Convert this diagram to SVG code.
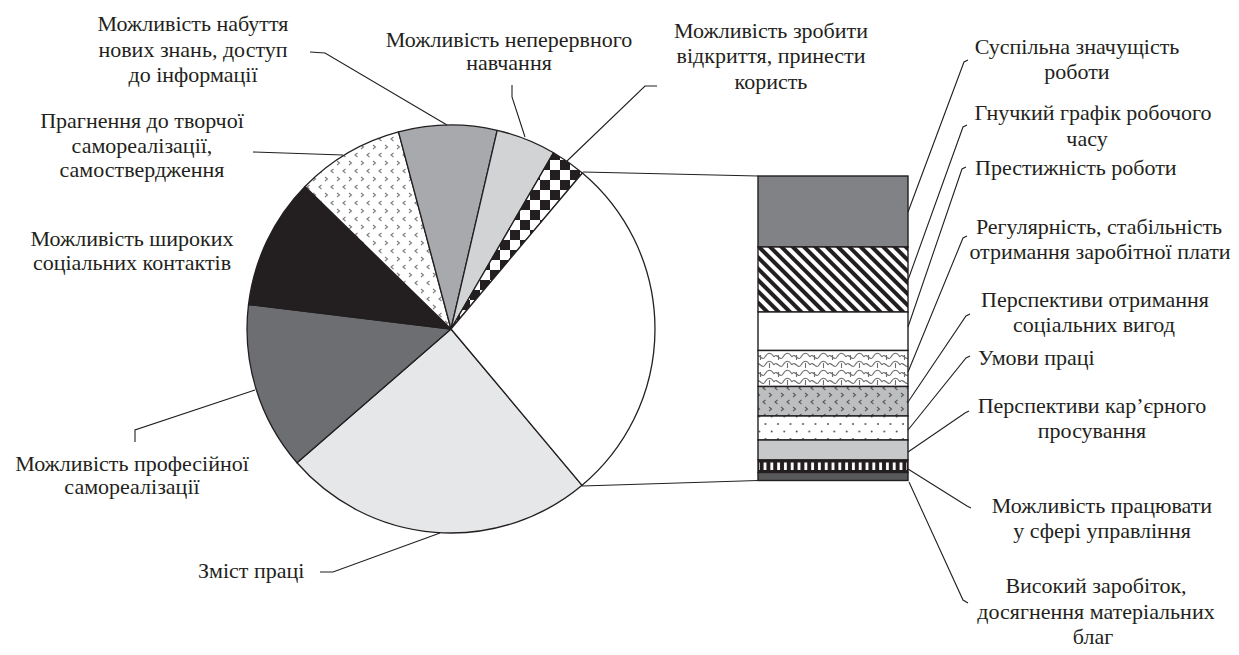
<svg xmlns="http://www.w3.org/2000/svg" width="1239" height="655" viewBox="0 0 1239 655">
<style>
text{font-family:"Liberation Serif","Times New Roman",serif;font-size:22px;fill:#231f20}
.m{text-anchor:middle}
.sl{stroke:#231f20;stroke-width:1.3;stroke-linejoin:round}
.seg{stroke:#231f20;stroke-width:1.4}
.ld{fill:none;stroke:#231f20;stroke-width:1.1}
</style>
<defs>
<pattern id="chev" width="12" height="16" patternUnits="userSpaceOnUse">
<rect width="12" height="16" fill="#fff"/>
<path d="M1,1 L3.5,3 L1,5 M9.5,9 L7,11 L9.5,13" fill="none" stroke="#7d7d7d" stroke-width="1.1"/>
</pattern>
<pattern id="chevg" width="12" height="14" patternUnits="userSpaceOnUse">
<rect width="12" height="14" fill="#bcbec0"/>
<path d="M1,1 L3.5,3 L1,5 M9.5,8 L7,10 L9.5,12" fill="none" stroke="#58595b" stroke-width="1.1"/>
</pattern>
<pattern id="check" width="20" height="20" patternUnits="userSpaceOnUse">
<rect width="20" height="20" fill="#fff"/>
<rect width="10" height="10" fill="#231f20"/>
<rect x="10" y="10" width="10" height="10" fill="#231f20"/>
</pattern>
<pattern id="hatch" width="8" height="8" patternUnits="userSpaceOnUse" patternTransform="rotate(-45)">
<rect width="8" height="8" fill="#fff"/>
<rect width="4" height="8" fill="#231f20"/>
</pattern>
<pattern id="wave" width="18" height="17" patternUnits="userSpaceOnUse" y="352">
<rect width="18" height="17" fill="#fff"/>
<path d="M0,5 C3,0 6,10 9,5 S15,0 18,5 M0,13 C3,8 6,18 9,13 S15,8 18,13 M4.5,3 L4.5,8 M13.5,11 L13.5,16" fill="none" stroke="#6d6e71" stroke-width="1.1"/>
</pattern>
<pattern id="dots" width="12.5" height="15" patternUnits="userSpaceOnUse">
<rect width="12.5" height="15" fill="#fff"/>
<circle cx="3" cy="4" r="0.9" fill="#414042"/>
<circle cx="9.25" cy="11.5" r="0.9" fill="#414042"/>
</pattern>
<pattern id="vbar" width="6.8" height="20" patternUnits="userSpaceOnUse">
<rect x="2" width="2.8" height="20" fill="#fff"/>
</pattern>
</defs>

<g id="pie">
<path id="s-zmist" class="sl" fill="#e6e7e8" d="M451,329 L297,462.8 A204,204 0 0 0 582.1,485.3 Z"/>
<path id="s-prof" class="sl" fill="#6d6e71" d="M451,329 L248.5,304.5 A204,204 0 0 0 297,462.8 Z"/>
<path id="s-kont" class="sl" fill="#231f20" d="M451,329 L305,186.5 A204,204 0 0 0 248.5,304.5 Z"/>
<path id="s-tvor" class="sl" fill="url(#chev)" d="M451,329 L398.5,131.9 A204,204 0 0 0 305,186.5 Z"/>
<path id="s-znan" class="sl" fill="#a7a9ac" d="M451,329 L497.2,130.3 A204,204 0 0 0 398.5,131.9 Z"/>
<path id="s-navch" class="sl" fill="#d1d3d4" d="M451,329 L553.6,152.7 A204,204 0 0 0 497.2,130.3 Z"/>
<path id="s-vidkr" class="sl" fill="url(#check)" d="M451,329 L582.4,173 A204,204 0 0 0 553.6,152.7 Z"/>
<path id="s-rest" class="sl" fill="#fff" d="M451,329 L582.1,485.3 A204,204 0 0 0 582.4,173 Z"/>
</g>

<g id="bar">
<rect id="b1" class="seg" x="758" y="176" width="150" height="71" fill="#808285"/>
<rect id="b2" class="seg" x="758" y="247" width="150" height="65" fill="url(#hatch)"/>
<rect id="b3" class="seg" x="758" y="312" width="150" height="38.5" fill="#fff"/>
<rect id="b4" class="seg" x="758" y="350.5" width="150" height="36" fill="url(#wave)"/>
<rect id="b5" class="seg" x="758" y="386.5" width="150" height="29.5" fill="url(#chevg)"/>
<rect id="b6" class="seg" x="758" y="416" width="150" height="24" fill="url(#dots)"/>
<rect id="b7" class="seg" x="758" y="440" width="150" height="20" fill="#c7c8ca"/>
<g id="b8">
<rect class="seg" x="758" y="460" width="150" height="12.5" fill="#231f20"/>
<rect x="759" y="462.5" width="148" height="7.5" fill="url(#vbar)"/>
</g>
<rect id="b9" class="seg" x="758" y="472.5" width="150" height="8" fill="#58595b"/>
</g>

<g id="connectors">
<path class="ld" d="M583,172 L758,176"/>
<path class="ld" d="M582,486 L758,480.5"/>
<path class="ld" d="M310,52 L325,53 L447,125"/>
<path class="ld" d="M253,152 L343,155"/>
<path class="ld" d="M512,85 L512,97 L525,137"/>
<path class="ld" d="M657,86 L645,86 L567,161"/>
<path class="ld" d="M135,442 L135,430 L255,390"/>
<path class="ld" d="M320,572 L333,572 L440,533"/>
<path class="ld" d="M908,212 L964,62 L968,60"/>
<path class="ld" d="M908,280 L963,127 L967,125"/>
<path class="ld" d="M908,327 L962,169 L966,167"/>
<path class="ld" d="M908,372 L963,238 L967,236"/>
<path class="ld" d="M908,402 L966,316 L970,314"/>
<path class="ld" d="M908,430 L966,358 L970,356"/>
<path class="ld" d="M908,452 L965,413 L969,411"/>
<path class="ld" d="M908,469 L967,506 L971,508"/>
<path class="ld" d="M909,482 L963,600 L968,603"/>
</g>

<g id="l-znan"><text class="m" x="193" y="31">Можливість набуття</text><text class="m" x="193" y="57">нових знань, доступ</text><text class="m" x="193" y="82">до інформації</text></g>
<g id="l-tvor"><text class="m" x="142" y="128">Прагнення до творчої</text><text class="m" x="142" y="153">самореалізації,</text><text class="m" x="142" y="177">самоствердження</text></g>
<g id="l-kont"><text class="m" x="132" y="246">Можливість широких</text><text class="m" x="132" y="270">соціальних контактів</text></g>
<g id="l-prof"><text class="m" x="132" y="471">Можливість професійної</text><text class="m" x="132" y="494">самореалізації</text></g>
<g id="l-zmist"><text x="198" y="578">Зміст праці</text></g>
<g id="l-navch"><text class="m" x="509" y="47">Можливість неперервного</text><text class="m" x="509" y="70">навчання</text></g>
<g id="l-vidkr"><text class="m" x="771" y="38">Можливість зробити</text><text class="m" x="771" y="63">відкриття, принести</text><text class="m" x="771" y="89">користь</text></g>

<g id="r1"><text class="m" x="1077" y="54">Суспільна значущість</text><text class="m" x="1077" y="79">роботи</text></g>
<g id="r2"><text class="m" x="1093" y="120">Гнучкий графік робочого</text><text class="m" x="1087" y="146">часу</text></g>
<g id="r3"><text x="975" y="175">Престижність роботи</text></g>
<g id="r4"><text class="m" x="1099" y="234">Регулярність, стабільність</text><text class="m" x="1100" y="259">отримання заробітної плати</text></g>
<g id="r5"><text class="m" x="1095" y="307">Перспективи отримання</text><text class="m" x="1094" y="332">соціальних вигод</text></g>
<g id="r6"><text x="978" y="365">Умови праці</text></g>
<g id="r7"><text class="m" x="1092" y="413">Перспективи кар’єрного</text><text class="m" x="1092" y="438">просування</text></g>
<g id="r8"><text class="m" x="1102" y="513">Можливість працювати</text><text class="m" x="1102" y="538">у сфері управління</text></g>
<g id="r9"><text class="m" x="1096" y="593">Високий заробіток,</text><text class="m" x="1096" y="619">досягнення матеріальних</text><text class="m" x="1093" y="644">благ</text></g>
</svg>
